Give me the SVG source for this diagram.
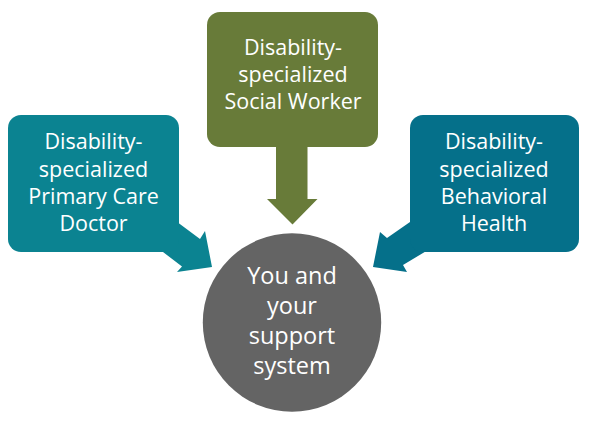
<svg xmlns="http://www.w3.org/2000/svg" width="594" height="424" viewBox="0 0 594 424">
  <style>
    .t { font-family: "Open Sans", "Liberation Sans", sans-serif; font-size: 21.5px; fill: #ffffff; text-anchor: middle; }
    .c { font-size: 23.5px; }
    .teal { fill: #0b8391; }
    .olive { fill: #687b39; }
    .blue { fill: #05708a; }
    .gray { fill: #646464; }
  </style>
  <rect width="594" height="424" fill="#ffffff"/>
  <g id="connectors">
    <polygon class="teal" points="170,215 178.5,223 200,239 205,231 212,267 177,272 182,266.5 163,252 160,240"/>
    <polygon class="olive" points="276,140 276,199 267,199 292.5,224.5 317.5,199 307.5,199 307.5,140"/>
    <polygon class="blue" points="420,215 410,222 387,238 380,232 373,267 407,272 403,265 428,250 432,240"/>
  </g>
  <g id="primary-care">
    <rect class="teal" x="8" y="115" width="171" height="137" rx="13"/>
    <text class="t" x="93.5" y="149">Disability-</text>
    <text class="t" x="93.5" y="177">specialized</text>
    <text class="t" x="93.5" y="204">Primary Care</text>
    <text class="t" x="93.5" y="231">Doctor</text>
  </g>
  <g id="social-worker">
    <rect class="olive" x="207" y="12" width="171" height="135" rx="13"/>
    <text class="t" x="293" y="55">Disability-</text>
    <text class="t" x="293" y="82">specialized</text>
    <text class="t" x="293" y="109">Social Worker</text>
  </g>
  <g id="behavioral-health">
    <rect class="blue" x="410" y="115" width="169" height="137" rx="13"/>
    <text class="t" x="494" y="149">Disability-</text>
    <text class="t" x="494" y="177">specialized</text>
    <text class="t" x="494" y="204">Behavioral</text>
    <text class="t" x="494" y="231">Health</text>
  </g>
  <g id="you">
    <circle class="gray" cx="292" cy="322.5" r="89.2"/>
    <text class="t c" x="292" y="284">You and</text>
    <text class="t c" x="292" y="314">your</text>
    <text class="t c" x="292" y="344">support</text>
    <text class="t c" x="292" y="374">system</text>
  </g>
</svg>
